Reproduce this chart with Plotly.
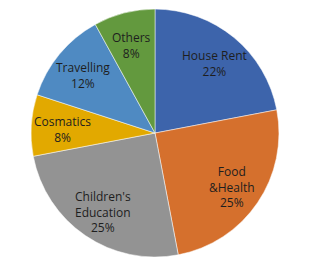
import math
import plotly.graph_objects as go

categories = ["House Rent", "Food<br>&Health", "Children's<br>Education", "Cosmatics", "Travelling", "Others"]
values = [22, 25, 25, 8, 12, 8]
colors = ["#3D64AB", "#D5702D", "#939393", "#E2A900", "#4F8AC2", "#63993E"]

W, H = 317, 268
dom_x = [0.098, 0.880]
dom_y = [0.041, 0.966]

fig = go.Figure(go.Pie(
    labels=categories,
    values=values,
    textinfo="none",
    hoverinfo="label+percent",
    sort=False,
    direction="clockwise",
    rotation=0,
    marker=dict(colors=colors, line=dict(color="#FFFFFF", width=0.5)),
    domain=dict(x=dom_x, y=dom_y),
    showlegend=False,
))

# data labels placed along each slice's mid-angle (derived from the values)
cx = (dom_x[0] + dom_x[1]) / 2 * W
cy = (dom_y[0] + dom_y[1]) / 2 * H
r = min((dom_x[1] - dom_x[0]) * W, (dom_y[1] - dom_y[0]) * H) / 2
total = sum(values)
cum = 0
annotations = []
for c, v in zip(categories, values):
    mid = (cum + v / 2) / total * 2 * math.pi
    cum += v
    rr = 0.75 * r
    px = cx + rr * math.sin(mid)
    py = cy + rr * math.cos(mid) - 2
    annotations.append(dict(
        x=px / W, y=py / H, xref="paper", yref="paper",
        text=f"{c}<br>{v}%", showarrow=False,
        xanchor="center", yanchor="middle", align="center",
        font=dict(family="Open Sans, Liberation Sans, sans-serif", size=12, color="#1E1E1E"),
    ))

fig.update_layout(
    width=W, height=H,
    margin=dict(l=0, r=0, t=0, b=0),
    paper_bgcolor="white",
    plot_bgcolor="white",
    annotations=annotations,
)

fig.write_html("out.html")
